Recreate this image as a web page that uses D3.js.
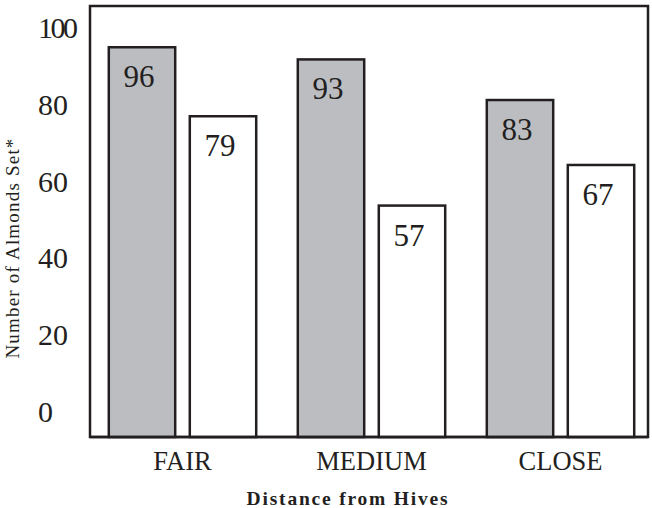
<!DOCTYPE html>
<html>
<head>
<meta charset="utf-8">
<script src="https://cdn.jsdelivr.net/npm/d3@7"></script>
<style>
  html, body { margin: 0; padding: 0; background: #fff; }
  svg { display: block; font-family: "Liberation Serif", "Times New Roman", serif; }
</style>
</head>
<body>
<svg id="chart" width="652" height="508"></svg>
<script>
// Almond set by distance from hives: shaded and open bars per distance class
const categories = ["FAIR", "MEDIUM", "CLOSE"];
const series = ["shaded", "open"];
const shadedValues = [96, 93, 83];
const openValues = [79, 57, 67];
const yTicks = [0, 20, 40, 60, 80, 100];

const svg = d3.select("#chart");

const frame = { left: 90, top: 6, right: 648, bottom: 437 };

const x0 = d3.scaleBand()
  .domain(categories)
  .range([88, 655])
  .paddingInner(0.22)
  .paddingOuter(0.11);

const x1 = d3.scaleBand()
  .domain(series)
  .range([0, x0.bandwidth()])
  .paddingInner(0.18);

const y = d3.scaleLinear().domain([0, 100]).range([frame.bottom, 31]);

// tick labels sit on their own evenly spaced scale to the left of the frame
const yLabel = d3.scaleLinear().domain([0, 100]).range([422, 38]);

const rows = categories.map((c, i) => ({ category: c, shaded: shadedValues[i], open: openValues[i] }));

// frame
svg.append("rect")
  .attr("x", frame.left)
  .attr("y", frame.top)
  .attr("width", frame.right - frame.left)
  .attr("height", frame.bottom - frame.top)
  .attr("fill", "#fff")
  .attr("stroke", "#231f20")
  .attr("stroke-width", 2.5);

// bars
const groups = svg.append("g").selectAll("g")
  .data(rows)
  .join("g")
  .attr("transform", d => `translate(${x0(d.category)},0)`);

const bars = groups.selectAll("g.bar")
  .data(d => series.map(s => ({ category: d.category, key: s, value: d[s] })))
  .join("g")
  .attr("class", "bar");

bars.append("rect")
  .attr("x", d => x1(d.key))
  .attr("y", d => y(d.value))
  .attr("width", x1.bandwidth())
  .attr("height", d => y(0) - y(d.value))
  .attr("fill", d => d.key === "shaded" ? "#bcbdc1" : "#ffffff")
  .attr("stroke", "#231f20")
  .attr("stroke-width", 2.5);

bars.append("text")
  .attr("x", d => x1(d.key) + x1.bandwidth() / 2 - 3)
  .attr("y", d => y(d.value) + 40)
  .attr("text-anchor", "middle")
  .attr("font-size", 31)
  .attr("fill", "#231f20")
  .text(d => d.value);

// redraw the baseline over the bar bottoms
svg.append("line")
  .attr("x1", frame.left).attr("x2", frame.right)
  .attr("y1", frame.bottom).attr("y2", frame.bottom)
  .attr("stroke", "#231f20").attr("stroke-width", 2.5);

// y tick labels
svg.append("g").selectAll("text")
  .data(yTicks)
  .join("text")
  .attr("x", 38)
  .attr("y", d => yLabel(d))
  .attr("font-size", 30)
  .attr("letter-spacing", d => d === 100 ? -2.5 : 0)
  .attr("fill", "#231f20")
  .text(d => d);

// category labels
svg.append("g").selectAll("text")
  .data(categories)
  .join("text")
  .attr("x", d => x0(d) + x0.bandwidth() / 2)
  .attr("y", 470)
  .attr("text-anchor", "middle")
  .attr("font-size", 26.5)
  .attr("fill", "#231f20")
  .text(d => d);

// axis titles
svg.append("text")
  .attr("x", 348)
  .attr("y", 505)
  .attr("text-anchor", "middle")
  .attr("font-size", 19.5)
  .attr("font-weight", "bold")
  .attr("letter-spacing", 1.8)
  .attr("fill", "#231f20")
  .text("Distance from Hives");

svg.append("text")
  .attr("transform", "translate(19,248) rotate(-90)")
  .attr("text-anchor", "middle")
  .attr("font-size", 19)
  .attr("letter-spacing", 1.2)
  .attr("fill", "#231f20")
  .text("Number of Almonds Set*");
</script>
</body>
</html>
